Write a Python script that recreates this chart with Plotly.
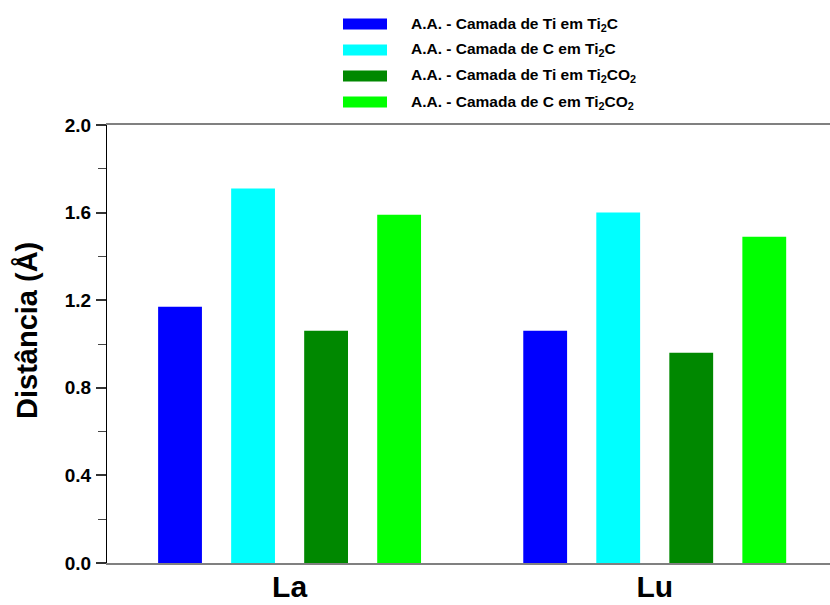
import plotly.graph_objects as go

categories = ["La", "Lu"]
series_names = [
    "A.A. - Camada de Ti em Ti<sub>2</sub>C",
    "A.A. - Camada de C em Ti<sub>2</sub>C",
    "A.A. - Camada de Ti em Ti<sub>2</sub>CO<sub>2</sub>",
    "A.A. - Camada de C em Ti<sub>2</sub>CO<sub>2</sub>",
]
ti_ti2c = [1.17, 1.06]
c_ti2c = [1.71, 1.60]
ti_ti2co2 = [1.06, 0.96]
c_ti2co2 = [1.59, 1.49]
colors = ["#0000FF", "#00FFFF", "#008800", "#00FF00"]
y_ticks = [0.0, 0.4, 0.8, 1.2, 1.6, 2.0]
y_ticktext = ["0.0", "0.4", "0.8", "1.2", "1.6", "2.0"]

W, H = 830, 605
L, R, T, B = 107, 0, 125, 42
pw, ph = W - L - R, H - T - B


def px(x):
    return (x - L) / pw


def py(y):
    return (H - B - y) / ph


fig = go.Figure()
for name, vals, col in zip(series_names, [ti_ti2c, c_ti2c, ti_ti2co2, c_ti2co2], colors):
    fig.add_trace(go.Bar(x=categories, y=vals, name=name, marker=dict(color=col, line=dict(width=0)),
                         showlegend=False))

font = "Liberation Sans, Arial, sans-serif"
shapes = []
annotations = []
row_centers = [24, 50, 76, 102]
for name, col, rc in zip(series_names, colors, row_centers):
    shapes.append(dict(type="rect", xref="paper", yref="paper", x0=px(343), x1=px(387),
                       y0=py(rc + 5.5), y1=py(rc - 5.5), fillcolor=col, line=dict(width=0)))
    annotations.append(dict(xref="paper", yref="paper", x=px(409), y=py(rc), xanchor="left",
                            yanchor="middle", showarrow=False, text="<b>" + name + "</b>",
                            font=dict(family=font, size=15.5, color="black")))

annotations.append(dict(xref="paper", yref="paper", x=px(27), y=py(331), xanchor="center",
                        yanchor="middle", showarrow=False, textangle=-90,
                        text="<b>Distância (Å)</b>", font=dict(family=font, size=29, color="black")))

fig.update_layout(
    width=W, height=H,
    margin=dict(l=L, r=R, t=T, b=B, pad=0, autoexpand=False),
    paper_bgcolor="white", plot_bgcolor="white",
    barmode="group", bargap=0.2, bargroupgap=0.4,
    shapes=shapes, annotations=annotations,
    font=dict(family=font, color="black"),
    xaxis=dict(range=[-0.5, 1.48], showline=True, linecolor="#808080", linewidth=2, mirror=True,
               ticks="", showgrid=False, zeroline=False, automargin=False,
               tickfont=dict(family=font, size=30, color="black"),
               tickvals=categories, ticktext=["<b>La</b>", "<b>Lu</b>"], ticklabelstandoff=-4),
    yaxis=dict(range=[0, 2.0], showline=True, linecolor="black", linewidth=1, showgrid=False,
               zeroline=False, ticks="outside", ticklen=10, tickcolor="#333", tickwidth=1.5,
               automargin=False, ticklabelstandoff=1,
               tickvals=y_ticks, ticktext=["<b>" + t + "</b>" for t in y_ticktext],
               tickfont=dict(family=font, size=19, color="black"),
               minor=dict(dtick=0.2, ticks="outside", ticklen=8, tickcolor="#444", tickwidth=1)),
)

fig.write_html("out.html")
